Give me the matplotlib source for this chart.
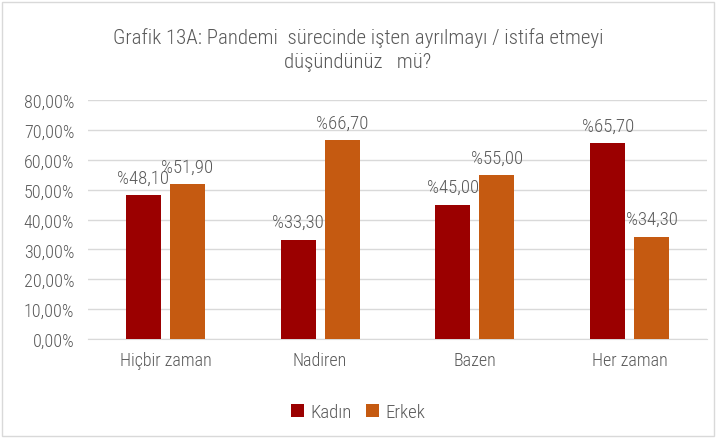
import numpy as np
from matplotlib import pyplot as plt
from matplotlib.patches import Rectangle

# survey answers per gender, percent
categories = ["Hiçbir zaman", "Nadiren", "Bazen", "Her zaman"]
kadin = [48.10, 33.30, 45.00, 65.70]
erkek = [51.90, 66.70, 55.00, 34.30]
y_ticks = [0, 10, 20, 30, 40, 50, 60, 70, 80]

C_KADIN = "#9B0000"
C_ERKEK = "#C55A11"
C_TEXT = "#595959"
C_GRID = "#D9D9D9"

plt.rcParams['font.family'] = ['Roboto Condensed', 'DejaVu Sans']
plt.rcParams['font.weight'] = 'light'


def pct(v):
    return ("%.2f" % v).replace(".", ",")


figure = plt.figure(figsize=(7.16, 4.39), dpi=100)
ax = figure.add_axes([88 / 716, 1 - 340 / 439, 619 / 716, 239 / 439])

x = np.arange(len(categories))
width = 0.226
gap = 0.058
off = (width + gap) / 2

bars_k = ax.bar(x - off, kadin, width, color=C_KADIN, label="Kadın", zorder=3)
bars_e = ax.bar(x + off, erkek, width, color=C_ERKEK, label="Erkek", zorder=3)

for bars, vals in ((bars_k, kadin), (bars_e, erkek)):
    for b, v in zip(bars, vals):
        ax.annotate("%" + pct(v), (b.get_x() + b.get_width() / 2, v),
                    xytext=(0, 6), textcoords="offset points",
                    ha="center", va="bottom", fontsize=13.5, color=C_TEXT)

ax.set_xlim(-0.5, len(categories) - 0.5)
ax.set_ylim(0, 80)
ax.set_yticks(y_ticks)
ax.set_yticklabels([pct(t) + "%" for t in y_ticks])
ax.set_xticks(x)
ax.set_xticklabels(categories)
ax.tick_params(axis="both", length=0, colors=C_TEXT, labelsize=13)
ax.tick_params(axis="x", pad=9)
ax.tick_params(axis="y", pad=10)
ax.yaxis.grid(True, color=C_GRID, linewidth=1, zorder=0)
for side in ("top", "right", "left"):
    ax.spines[side].set_visible(False)
ax.spines["bottom"].set_color(C_GRID)

figure.text(0.5, 1 - 38 / 439, "Grafik 13A: Pandemi  sürecinde işten ayrılmayı / istifa etmeyi",
            ha="center", va="center", fontsize=15, color=C_TEXT)
figure.text(0.5, 1 - 62 / 439, "düşündünüz   mü?",
            ha="center", va="center", fontsize=15, color=C_TEXT)

figure.legend(loc="center", bbox_to_anchor=(0.5, 1 - 413 / 439), ncol=2,
              frameon=False, fontsize=13.5, labelcolor=C_TEXT,
              handlelength=0.7, handleheight=0.7, handletextpad=0.3,
              columnspacing=0.8)

figure.patches.append(Rectangle((2 / 716, 2 / 439), 712 / 716, 434 / 439,
                                transform=figure.transFigure, fill=False,
                                edgecolor=C_GRID, linewidth=1))

figure.savefig("out.png", dpi=100)
plt.close(figure)
